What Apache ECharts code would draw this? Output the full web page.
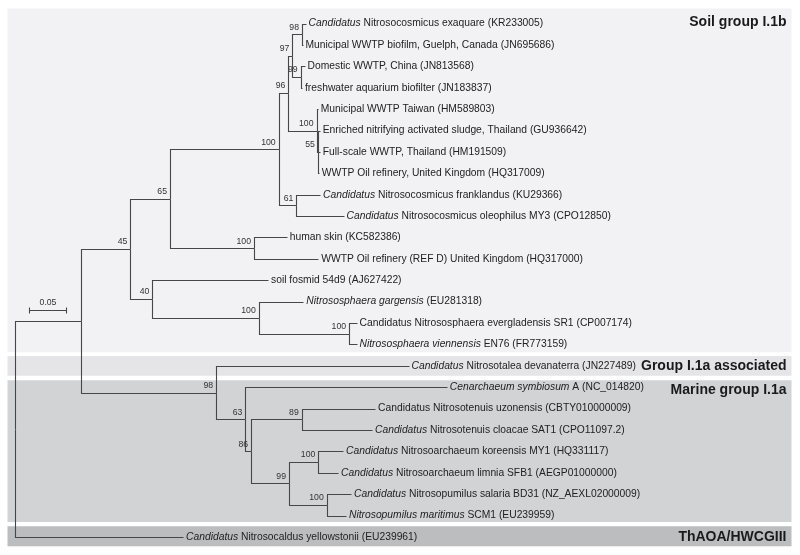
<!DOCTYPE html>
<html><head><meta charset="utf-8">
<script src="https://cdn.jsdelivr.net/npm/echarts@6/dist/echarts.min.js"></script>
<style>html,body{margin:0;padding:0;background:#fff}#c{width:800px;height:555px}</style>
</head><body><div id="c"></div>
<script>
// ---------- DATA ----------
// Leaf labels ({i|...} = italic), top to bottom
const leafLabels = [
  '{i|Candidatus} Nitrosocosmicus exaquare (KR233005)',
  'Municipal WWTP biofilm, Guelph, Canada (JN695686)',
  'Domestic WWTP, China (JN813568)',
  'freshwater aquarium biofilter (JN183837)',
  'Municipal WWTP Taiwan (HM589803)',
  'Enriched nitrifying activated sludge, Thailand (GU936642)',
  'Full-scale WWTP, Thailand (HM191509)',
  'WWTP Oil refinery, United Kingdom (HQ317009)',
  '{i|Candidatus} Nitrosocosmicus franklandus (KU29366)',
  '{i|Candidatus} Nitrosocosmicus oleophilus MY3 (CPO12850)',
  'human skin (KC582386)',
  'WWTP Oil refinery (REF D) United Kingdom (HQ317000)',
  'soil fosmid 54d9 (AJ627422)',
  '{i|Nitrososphaera gargensis} (EU281318)',
  'Candidatus Nitrososphaera evergladensis SR1 (CP007174)',
  '{i|Nitrososphaera viennensis} EN76 (FR773159)',
  '{i|Candidatus} Nitrosotalea devanaterra (JN227489)',
  '{i|Cenarchaeum symbiosum} A (NC_014820)',
  'Candidatus Nitrosotenuis uzonensis (CBTY010000009)',
  '{i|Candidatus} Nitrosotenuis cloacae SAT1 (CPO11097.2)',
  '{i|Candidatus} Nitrosoarchaeum koreensis MY1 (HQ331117)',
  '{i|Candidatus} Nitrosoarchaeum limnia SFB1 (AEGP01000000)',
  '{i|Candidatus} Nitrosopumilus salaria BD31 (NZ_AEXL02000009)',
  '{i|Nitrosopumilus maritimus} SCM1 (EU239959)',
  '{i|Candidatus} Nitrosocaldus yellowstonii (EU239961)'
];
// Cumulative distance from root (substitutions per site) of each leaf
const leafDepths = [
  0.4006, 0.3964, 0.3992, 0.3957, 0.4174, 0.4201, 0.4201, 0.4187,
  0.4205, 0.4529, 0.3747, 0.4182, 0.3489, 0.3975, 0.4708, 0.4708,
  0.5424, 0.5952, 0.4963, 0.4921, 0.4522, 0.4453, 0.4632, 0.4563,
  0.2318
];
// Internal nodes
const nodeNames = ['root','I','n45','n65','n100a','n96','n97','n98','n99','n100b','n55','n61','n100c',
                   'n40','n100d','n100e','n98b','n63','n86','n89','n99b','n100f','n100g'];
const nodeDepths = [0, 0.0909, 0.1592, 0.2139, 0.3636, 0.3769, 0.3824, 0.3957, 0.3939, 0.4157, 0.4175,
                    0.3879, 0.3296, 0.1895, 0.3361, 0.4605, 0.2773, 0.3176, 0.3255, 0.3953, 0.3778,
                    0.4182, 0.4298];
const nodeChildren = [
  ['I', 24], ['n45', 'n98b'], ['n65', 'n40'], ['n100a', 'n100c'], ['n96', 'n61'],
  ['n97', 'n100b'], ['n98', 'n99'], [0, 1], [2, 3], [4, 'n55'], [5, 6, 7],
  [8, 9], [10, 11], [12, 'n100d'], [13, 'n100e'], [14, 15], [16, 'n63'],
  [17, 'n86'], ['n89', 'n99b'], [18, 19], ['n100f', 'n100g'], [20, 21], [22, 23]
];
const nodeSupport = ['', '', '45', '65', '100', '96', '97', '98', '99', '100', '55', '61', '100',
                     '40', '100', '100', '98', '63', '86', '89', '99', '100', '100'];
// Clade bands (in leaf-row units)
const groupNames = ['Soil group I.1b', 'Group I.1a associated', 'Marine group I.1a', 'ThAOA/HWCGIII'];
const groupRowStart = [-0.7, 15.54, 16.68, 23.50];
const groupRowEnd   = [15.37, 16.47, 23.30, 24.44];
const groupLabelRow = [-0.05, 16.04, 17.14, 24.0];
const groupColors = ['#f2f2f4', '#e5e5e7', '#d2d3d5', '#bcbdbf'];
// Scale bar
const scaleBarValue = 0.05;
const scaleBarStart = 0.02;
const scaleBarRow = 13.4;

// ---------- LAYOUT ----------
const X_MIN = -0.01, X_MAX = 1.07;
const FONT = '"Liberation Sans", Arial, Helvetica, sans-serif';
const LINE = '#474747';
const nodeIndex = {};
nodeNames.forEach((n, i) => nodeIndex[n] = i);
const depthOf = r => typeof r === 'number' ? leafDepths[r] : nodeDepths[nodeIndex[r]];
const rowCache = {};
function rowOf(r) {
  if (typeof r === 'number') return r;
  if (rowCache[r] != null) return rowCache[r];
  const ch = nodeChildren[nodeIndex[r]];
  return rowCache[r] = (rowOf(ch[0]) + rowOf(ch[ch.length - 1])) / 2;
}
const branchData = [];
nodeNames.forEach((n, i) => {
  nodeChildren[i].forEach(c => branchData.push([nodeDepths[i], rowOf(n), depthOf(c), rowOf(c)]));
});
const supportIdx = nodeNames.map((n, i) => i).filter(i => nodeSupport[i]);
const supportData = supportIdx.map(i => [nodeDepths[i], rowOf(nodeNames[i])]);
const leafData = leafLabels.map((t, i) => [leafDepths[i], i]);
const bandData = groupNames.map((g, i) => [X_MIN, groupRowStart[i], X_MAX, groupRowEnd[i], groupLabelRow[i]]);
const snap = v => Math.round(v) + 0.5;

const chart = echarts.init(document.getElementById('c'), null, {renderer: 'canvas'});
chart.setOption({
  animation: false,
  backgroundColor: '#ffffff',
  grid: {left: 7.5, top: 8.6, width: 784, height: 537.7, containLabel: false},
  xAxis: {type: 'value', min: X_MIN, max: X_MAX, show: false},
  yAxis: {type: 'value', min: -0.7, max: 24.44, inverse: true, show: false},
  series: [
    { // clade bands
      type: 'custom', z: 1, silent: true, data: bandData,
      renderItem: (params, api) => {
        const a = api.coord([api.value(0), api.value(1)]);
        const b = api.coord([api.value(2), api.value(3)]);
        const t = api.coord([api.value(2), api.value(4)]);
        return {type: 'group', children: [
          {type: 'rect', shape: {x: a[0], y: a[1], width: b[0] - a[0], height: b[1] - a[1]},
           style: {fill: groupColors[params.dataIndex]}},
          {type: 'text', x: t[0] - 5, y: t[1], z2: 5,
           style: {text: groupNames[params.dataIndex], fill: '#1a1a1a', font: 'bold 14px ' + FONT,
                   align: 'right', verticalAlign: 'middle'}}
        ]};
      }
    },
    { // branches
      type: 'custom', z: 2, silent: true, data: branchData,
      renderItem: (params, api) => {
        const p = api.coord([api.value(0), api.value(1)]);
        const c = api.coord([api.value(2), api.value(3)]);
        const px = snap(p[0]), py = snap(p[1]), cx = snap(c[0]), cy = snap(c[1]);
        return {type: 'polyline', shape: {points: [[px, py], [px, cy], [cx, cy]]},
                style: {stroke: LINE, lineWidth: 1.1, fill: null}};
      }
    },
    { // leaf labels
      type: 'custom', z: 3, silent: true, data: leafData,
      renderItem: (params, api) => {
        const c = api.coord([api.value(0), api.value(1)]);
        return {type: 'text', x: c[0] + 3, y: c[1],
          style: {text: leafLabels[params.dataIndex], fill: '#222', fontSize: 10.3, fontFamily: FONT,
                  align: 'left', verticalAlign: 'middle',
                  rich: {i: {fontStyle: 'italic', fontSize: 10.3, fontFamily: FONT, fill: '#222'}}}};
      }
    },
    { // bootstrap support values
      type: 'custom', z: 3, silent: true, data: supportData,
      renderItem: (params, api) => {
        const c = api.coord([api.value(0), api.value(1)]);
        return {type: 'text', x: c[0] - 3, y: c[1] - 7,
          style: {text: nodeSupport[supportIdx[params.dataIndex]], fill: '#333', fontSize: 8.7,
                  fontFamily: FONT, align: 'right', verticalAlign: 'middle'}};
      }
    },
    { // scale bar
      type: 'custom', z: 3, silent: true, data: [[scaleBarStart, scaleBarRow, scaleBarStart + scaleBarValue]],
      renderItem: (params, api) => {
        const a = api.coord([api.value(0), api.value(1)]);
        const b = api.coord([api.value(2), api.value(1)]);
        const y = snap(a[1]), x0 = snap(a[0]), x1 = snap(b[0]);
        const st = {stroke: LINE, lineWidth: 1.1};
        return {type: 'group', children: [
          {type: 'line', shape: {x1: x0, y1: y, x2: x1, y2: y}, style: st},
          {type: 'line', shape: {x1: x0, y1: y - 3, x2: x0, y2: y + 3}, style: st},
          {type: 'line', shape: {x1: x1, y1: y - 3, x2: x1, y2: y + 3}, style: st},
          {type: 'text', x: (x0 + x1) / 2, y: y - 8,
           style: {text: String(scaleBarValue), fill: '#333', fontSize: 8.7, fontFamily: FONT,
                   align: 'center', verticalAlign: 'middle'}}
        ]};
      }
    }
  ]
});
</script></body></html>
